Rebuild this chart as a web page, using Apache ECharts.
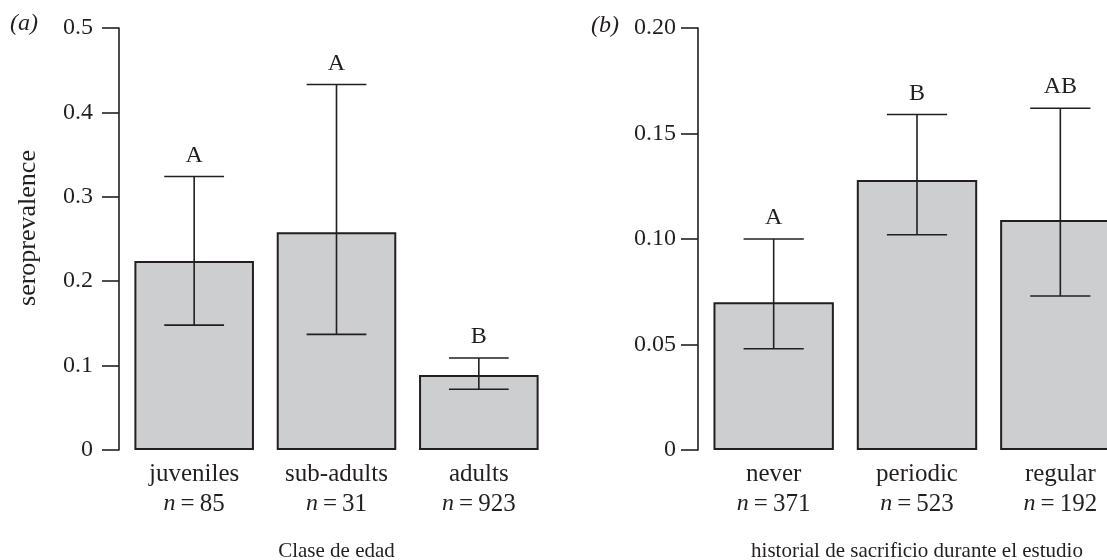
<!DOCTYPE html>
<html>
<head>
<meta charset="utf-8">
<script src="https://cdn.jsdelivr.net/npm/echarts@6/dist/echarts.min.js"></script>
<style>
html,body{margin:0;padding:0;background:#fff;overflow:hidden;}
#c{width:1107px;height:560px;}
</style>
</head>
<body>
<div id="c"></div>
<script>
// Panel (a): age class
var categoriesA = ['juveniles', 'sub-adults', 'adults'];
var nA = [85, 31, 923];
var valuesA = [0.224, 0.258, 0.089];
var lowerA = [0.148, 0.137, 0.072];
var upperA = [0.324, 0.433, 0.109];
var lettersA = ['A', 'A', 'B'];
var ticksA = [0, 0.1, 0.2, 0.3, 0.4, 0.5];

// Panel (b): culling history during study
var categoriesB = ['never', 'periodic', 'regular'];
var nB = [371, 523, 192];
var valuesB = [0.070, 0.128, 0.109];
var lowerB = [0.048, 0.102, 0.073];
var upperB = [0.100, 0.159, 0.162];
var lettersB = ['A', 'B', 'AB'];
var ticksB = [0, 0.05, 0.10, 0.15, 0.20];

var INK = '#231f20';
var FONT = '"Liberation Serif", "DejaVu Serif", serif';

function catLabels(cats, ns) {
  return cats.map(function (c, i) { return c + '\n{i|n}\u2009=\u2009' + ns[i]; });
}

function errData(vals, lo, hi, letters) {
  return vals.map(function (v, i) { return [i, lo[i], hi[i], letters[i]]; });
}

function renderErr(params, api) {
  var i = api.value(0);
  var pLo = api.coord([i, api.value(1)]);
  var pHi = api.coord([i, api.value(2)]);
  var band = api.size([1, 0])[0];
  var half = band * 0.21;
  var st = { stroke: INK, lineWidth: 1.6 };
  return {
    type: 'group',
    children: [
      { type: 'line', shape: { x1: pLo[0], y1: pLo[1], x2: pHi[0], y2: pHi[1] }, style: st },
      { type: 'line', shape: { x1: pLo[0] - half, y1: pLo[1], x2: pLo[0] + half, y2: pLo[1] }, style: st },
      { type: 'line', shape: { x1: pHi[0] - half, y1: pHi[1], x2: pHi[0] + half, y2: pHi[1] }, style: st },
      { type: 'text', style: { x: pHi[0], y: pHi[1] - 9, text: String(api.value(3)), fill: INK,
          font: '24px ' + FONT, align: 'center', verticalAlign: 'bottom' } }
    ]
  };
}

function yAxisCfg(grid, max, interval, fmt, margin) {
  return {
    type: 'value', gridIndex: grid, min: 0, max: max, interval: interval,
    offset: 4,
    axisLine: { show: true, lineStyle: { color: INK, width: 1.6 } },
    axisTick: { show: true, length: 17, lineStyle: { color: INK, width: 1.6 } },
    axisLabel: { color: INK, fontFamily: FONT, fontSize: 24, margin: margin, formatter: fmt },
    splitLine: { show: false }
  };
}

function xAxisCfg(grid, cats, ns, name) {
  return {
    type: 'category', gridIndex: grid, data: catLabels(cats, ns),
    axisLine: { show: false }, axisTick: { show: false },
    name: name, nameLocation: 'middle', nameGap: 91,
    nameTextStyle: { color: INK, fontFamily: FONT, fontSize: 21 },
    axisLabel: {
      interval: 0,
      color: INK, fontFamily: FONT, fontSize: 25, lineHeight: 30, margin: 9,
      rich: { i: { fontStyle: 'italic', fontFamily: FONT, fontSize: 24, color: INK, lineHeight: 30 } }
    }
  };
}

var chart = echarts.init(document.getElementById('c'), null, { renderer: 'canvas' });

chart.setOption({
  animation: false,
  backgroundColor: '#ffffff',
  grid: [
    { left: 123, width: 427, top: 28, bottom: 110, outerBoundsMode: 'none', containLabel: false },
    { left: 702, width: 430, top: 28, bottom: 110, outerBoundsMode: 'none', containLabel: false }
  ],
  xAxis: [
    xAxisCfg(0, categoriesA, nA, 'Clase de edad'),
    xAxisCfg(1, categoriesB, nB, 'historial de sacrificio durante el estudio')
  ],
  yAxis: [
    yAxisCfg(0, ticksA[ticksA.length - 1], ticksA[1], function (v) { return v === 0 ? '0' : v.toFixed(1); }, 26),
    yAxisCfg(1, ticksB[ticksB.length - 1], ticksB[1], function (v) { return v === 0 ? '0' : v.toFixed(2); }, 22)
  ],
  graphic: [
    { type: 'text', left: 10, top: 12, style: { text: '(a)', font: 'italic 24px ' + FONT, fill: INK } },
    { type: 'text', left: 591, top: 14, style: { text: '(b)', font: 'italic 24px ' + FONT, fill: INK } },
    { type: 'text', x: 28, y: 228, rotation: Math.PI / 2,
      style: { text: 'seroprevalence', font: '26px ' + FONT, fill: INK, align: 'center', verticalAlign: 'middle' } }
  ],
  series: [
    { type: 'bar', xAxisIndex: 0, yAxisIndex: 0, data: valuesA, barCategoryGap: '16%',
      itemStyle: { color: '#cdcecf', borderColor: INK, borderWidth: 2 }, z: 2 },
    { type: 'bar', xAxisIndex: 1, yAxisIndex: 1, data: valuesB, barCategoryGap: '16%',
      itemStyle: { color: '#cdcecf', borderColor: INK, borderWidth: 2 }, z: 2 },
    { type: 'custom', xAxisIndex: 0, yAxisIndex: 0, data: errData(valuesA, lowerA, upperA, lettersA),
      renderItem: renderErr, z: 5, encode: { x: 0, y: [1, 2] } },
    { type: 'custom', xAxisIndex: 1, yAxisIndex: 1, data: errData(valuesB, lowerB, upperB, lettersB),
      renderItem: renderErr, z: 5, encode: { x: 0, y: [1, 2] } }
  ]
});
</script>
</body>
</html>
